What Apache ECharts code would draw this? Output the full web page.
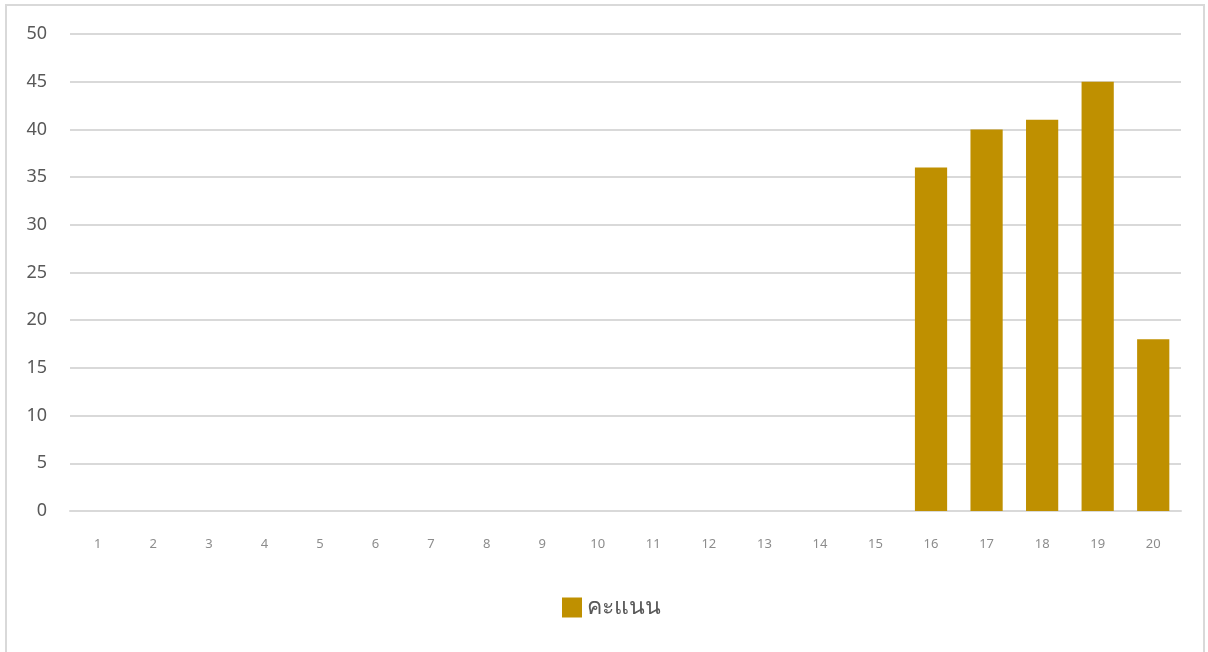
<!DOCTYPE html>
<html>
<head>
<meta charset="utf-8">
<script src="https://cdn.jsdelivr.net/npm/echarts@6/dist/echarts.min.js"></script>
<style>
  html, body { margin: 0; padding: 0; background: #fff; overflow: hidden; }
  #frame {
    position: absolute; left: 5px; top: 4px; width: 1200px; height: 700px;
    border: 2px solid #d9d9d9; box-sizing: border-box;
  }
  #chart { position: absolute; left: 0; top: 0; width: 1208px; height: 652px; }
</style>
</head>
<body>
<div id="frame"></div>
<div id="chart"></div>
<script>
// categories 1..20 and score per category
const categories = ["1", "2", "3", "4", "5", "6", "7", "8", "9", "10",
                    "11", "12", "13", "14", "15", "16", "17", "18", "19", "20"];
const scores = [null, null, null, null, null, null, null, null, null, null,
                null, null, null, null, null, 36, 40, 41, 45, 18];
const seriesName = "คะแนน";

const chart = echarts.init(document.getElementById("chart"));

const option = {
  animation: false,
  textStyle: { fontFamily: "Noto Sans, DejaVu Sans, sans-serif" },
  grid: { left: 70, right: 27, top: 34, bottom: 141 },
  legend: {
    data: [seriesName],
    bottom: 28,
    left: 557,
    itemWidth: 20,
    itemHeight: 20,
    itemGap: 10,
    icon: "rect",
    textStyle: { fontSize: 23, color: "#595959" }
  },
  xAxis: {
    type: "category",
    data: categories,
    axisLine: { lineStyle: { color: "#d9d9d9", width: 2 } },
    axisTick: { show: false },
    axisLabel: { color: "#8c8c8c", fontSize: 13, margin: 27 }
  },
  yAxis: {
    type: "value",
    min: 0,
    max: 50,
    interval: 5,
    axisLine: { show: false },
    axisTick: { show: false },
    axisLabel: { color: "#595959", fontSize: 18, margin: 23 },
    splitLine: { lineStyle: { color: "#d9d9d9", width: 2 } }
  },
  series: [
    {
      name: seriesName,
      type: "bar",
      data: scores,
      barWidth: "58%",
      itemStyle: { color: "#bf9000" }
    }
  ]
};

chart.setOption(option);
</script>
</body>
</html>
